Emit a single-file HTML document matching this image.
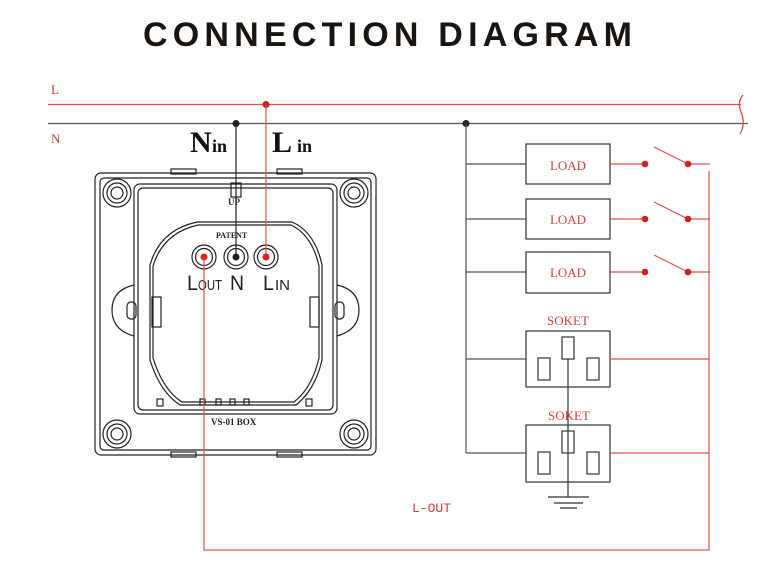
<!DOCTYPE html>
<html><head><meta charset="utf-8"><style>
html,body{margin:0;padding:0;background:#fff;width:772px;height:576px;overflow:hidden}
svg{display:block}
</style></head><body>
<svg width="772" height="576" viewBox="0 0 772 576" xmlns="http://www.w3.org/2000/svg">
<text x="143" y="46" font-family="Liberation Sans, sans-serif" font-size="34" font-weight="bold" fill="#1a1410" textLength="489" lengthAdjust="spacing">CONNECTION DIAGRAM</text>

<text x="51" y="94" font-family="Liberation Serif, serif" font-size="13" fill="#d04040">L</text>
<text x="51" y="143" font-family="Liberation Serif, serif" font-size="13" fill="#d04040">N</text>
<line x1="48" y1="104.5" x2="741" y2="104.5" stroke="#e05050" stroke-width="1.2"/>
<line x1="48" y1="123.5" x2="748" y2="123.5" stroke="#555" stroke-width="1.2"/>
<path d="M743 95 Q737 102 741 112 Q746 124 740 134" fill="none" stroke="#d04040" stroke-width="1.2"/>
<circle cx="266" cy="104.5" r="3.5" fill="#d02020"/>
<circle cx="236" cy="123.5" r="3.5" fill="#222"/>
<circle cx="466" cy="123.5" r="3.5" fill="#222"/>

<text x="190" y="152" font-family="Liberation Serif, serif" font-size="30" font-weight="bold" fill="#111">N</text>
<text x="212" y="152" font-family="Liberation Serif, serif" font-size="18" font-weight="bold" fill="#111">in</text>
<text x="272" y="152" font-family="Liberation Serif, serif" font-size="30" font-weight="bold" fill="#111">L</text>
<text x="297" y="152" font-family="Liberation Serif, serif" font-size="18" font-weight="bold" fill="#111">in</text>

<g fill="none" stroke="#222" stroke-width="1.2">
<rect x="95" y="173" width="281" height="282" rx="6"/>
<rect x="100" y="178" width="271" height="272" rx="4"/>
<rect x="134" y="184" width="203" height="230" rx="6"/>
<rect x="138" y="188" width="195" height="222" rx="5"/>
<rect x="171" y="169" width="25" height="5"/>
<rect x="277" y="169" width="25" height="5"/>
<rect x="171" y="452" width="25" height="5"/>
<rect x="277" y="452" width="25" height="5"/>
<rect x="231" y="183" width="10" height="14"/>
<circle cx="117" cy="193" r="14"/><circle cx="117" cy="193" r="10"/><circle cx="117" cy="193" r="6"/>
<circle cx="354" cy="193" r="14"/><circle cx="354" cy="193" r="10"/><circle cx="354" cy="193" r="6"/>
<circle cx="117" cy="434" r="14"/><circle cx="117" cy="434" r="10"/><circle cx="117" cy="434" r="6"/>
<circle cx="354" cy="434" r="14"/><circle cx="354" cy="434" r="10"/><circle cx="354" cy="434" r="6"/>
<path d="M134 285 Q112 290 112 310 Q112 330 134 336"/>
<path d="M337 285 Q359 290 359 310 Q359 330 337 336"/>
<rect x="127" y="302" width="9" height="17" rx="4"/>
<rect x="335" y="302" width="9" height="17" rx="4"/>
<path d="M150 265 Q160 230 197 222 L292 222 Q315 232 322 265 L322 360 Q315 390 296 405 L180 405 Q160 392 150 360 Z"/>
<path d="M153 266 Q163 233 198 225 L291 225 Q312 235 319 266 L319 358 Q312 388 294 402 L182 402 Q163 390 153 358 Z"/>
<rect x="152" y="297" width="9" height="30"/>
<rect x="310" y="297" width="9" height="30"/>
<rect x="200" y="399" width="5" height="6"/><rect x="216" y="399" width="5" height="6"/><rect x="230" y="399" width="5" height="6"/><rect x="244" y="399" width="5" height="6"/>
<rect x="157" y="399" width="6" height="7"/><rect x="306" y="399" width="6" height="7"/>
<circle cx="204" cy="257" r="12"/><circle cx="204" cy="257" r="8.5"/>
<circle cx="236" cy="257" r="12"/><circle cx="236" cy="257" r="8.5"/>
<circle cx="266" cy="257" r="12"/><circle cx="266" cy="257" r="8.5"/>
</g>
<text x="228" y="205" font-family="Liberation Serif, serif" font-size="9" font-weight="bold" fill="#222">UP</text>
<text x="216" y="238" font-family="Liberation Serif, serif" font-size="8" font-weight="bold" fill="#222">PATENT</text>
<text x="211" y="425" font-family="Liberation Serif, serif" font-size="9" font-weight="bold" fill="#222">VS-01 BOX</text>
<text x="187" y="290" font-family="Liberation Sans, sans-serif" font-size="21" fill="#222" textLength="11" lengthAdjust="spacingAndGlyphs">L</text>
<text x="198" y="290" font-family="Liberation Sans, sans-serif" font-size="15" fill="#222" textLength="24" lengthAdjust="spacingAndGlyphs">OUT</text>
<text x="230" y="290" font-family="Liberation Sans, sans-serif" font-size="21" fill="#222" textLength="14" lengthAdjust="spacingAndGlyphs">N</text>
<text x="263" y="290" font-family="Liberation Sans, sans-serif" font-size="21" fill="#222" textLength="11" lengthAdjust="spacingAndGlyphs">L</text>
<text x="275" y="290" font-family="Liberation Sans, sans-serif" font-size="15" fill="#222" textLength="15" lengthAdjust="spacingAndGlyphs">IN</text>

<line x1="236" y1="123.5" x2="236" y2="257" stroke="#222" stroke-width="1.2"/>
<line x1="266" y1="104.5" x2="266" y2="257" stroke="#e05050" stroke-width="1.2"/>
<circle cx="204" cy="257" r="3.5" fill="#e02020"/>
<circle cx="236" cy="257" r="3.5" fill="#222"/>
<circle cx="266" cy="257" r="3.5" fill="#e02020"/>

<polyline points="204,257 204,550 709,550 709,171" fill="none" stroke="#e05050" stroke-width="1.2"/>
<text x="412" y="512" font-family="Liberation Mono, monospace" font-size="13" fill="#d04040">L-OUT</text>

<g stroke="#555" stroke-width="1.2" fill="none">
<line x1="466" y1="123.5" x2="466" y2="453"/>
<line x1="466" y1="164" x2="526" y2="164"/>
<line x1="466" y1="219" x2="526" y2="219"/>
<line x1="466" y1="272" x2="526" y2="272"/>
<line x1="466" y1="359" x2="526" y2="359"/>
<line x1="466" y1="453" x2="526" y2="453"/>
</g>
<g stroke="#333" stroke-width="1.2" fill="none">
<rect x="526" y="144" width="84" height="40"/>
<rect x="526" y="199" width="84" height="40"/>
<rect x="526" y="252" width="84" height="41"/>
<rect x="526" y="331" width="84" height="56"/>
<rect x="526" y="425" width="84" height="57"/>
<rect x="562" y="337" width="12" height="22"/><rect x="538" y="358" width="12" height="22"/><rect x="587" y="358" width="12" height="22"/>
<rect x="562" y="431" width="12" height="22"/><rect x="538" y="452" width="12" height="22"/><rect x="587" y="452" width="12" height="22"/>
<line x1="568" y1="359" x2="568" y2="497"/>
<line x1="548" y1="497" x2="589" y2="497"/>
<line x1="554" y1="503" x2="583" y2="503"/>
<line x1="560" y1="508" x2="577" y2="508"/>
</g>
<g font-family="Liberation Serif, serif" font-size="13" fill="#d04040" text-anchor="middle">
<text x="568" y="170">LOAD</text>
<text x="568" y="224">LOAD</text>
<text x="568" y="277">LOAD</text>
<text x="568" y="325">SOKET</text>
<text x="569" y="420">SOKET</text>
</g>
<g stroke="#e05050" stroke-width="1.2" fill="none">
<line x1="610" y1="164" x2="645" y2="164"/><line x1="654" y1="147" x2="688" y2="164"/><line x1="688" y1="164" x2="710" y2="164"/>
<line x1="610" y1="219" x2="645" y2="219"/><line x1="654" y1="202" x2="688" y2="219"/><line x1="688" y1="219" x2="710" y2="219"/>
<line x1="610" y1="272" x2="645" y2="272"/><line x1="654" y1="255" x2="688" y2="272"/><line x1="688" y1="272" x2="710" y2="272"/>
<line x1="610" y1="359" x2="709" y2="359"/>
<line x1="610" y1="453" x2="709" y2="453"/>
</g>
<g fill="#d02020">
<circle cx="645" cy="164" r="3.3"/><circle cx="688" cy="164" r="3.3"/>
<circle cx="645" cy="219" r="3.3"/><circle cx="688" cy="219" r="3.3"/>
<circle cx="645" cy="272" r="3.3"/><circle cx="688" cy="272" r="3.3"/>
</g>
</svg>
</body></html>
